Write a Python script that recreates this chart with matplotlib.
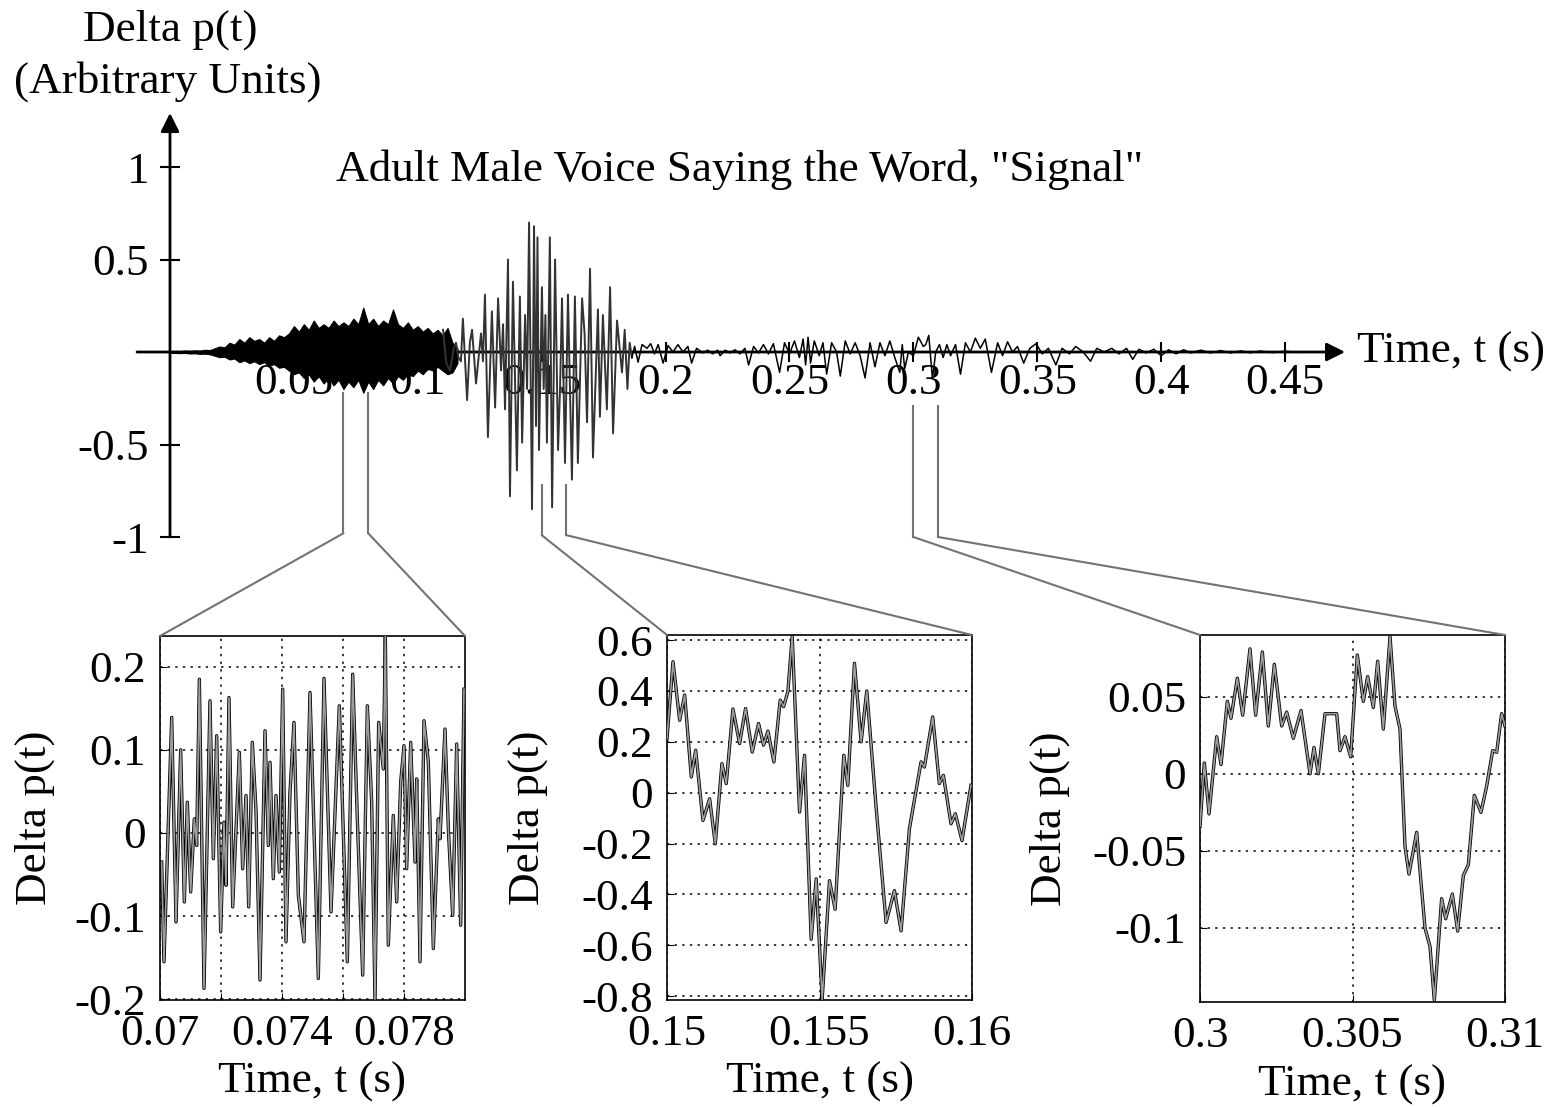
#!/usr/bin/env python3
"""Speech waveform of the word "Signal" with three zoomed insets."""

import matplotlib

matplotlib.use("Agg")
import matplotlib.pyplot as plt
import numpy as np
from matplotlib.patches import ConnectionPatch

plt.rcParams["font.family"] = ["Liberation Serif", "DejaVu Serif"]
plt.rcParams["axes.unicode_minus"] = False

# --- data (times in ms) ---
# unvoiced "s" part: drawn as a filled envelope, 2 ms steps
BLOB_T_MS = list(range(0, 118, 2))
BLOB_UPPER = [0.004, 0.006, 0.005, 0.008, 0.006, 0.009, 0.007, 0.012, 0.01, 0.02,
              0.03, 0.025, 0.05, 0.04, 0.07, 0.05, 0.08, 0.06, 0.07, 0.05,
              0.08, 0.06, 0.09, 0.08, 0.1, 0.14, 0.11, 0.15, 0.12, 0.17,
              0.13, 0.15, 0.13, 0.17, 0.14, 0.16, 0.14, 0.18, 0.15, 0.24,
              0.15, 0.18, 0.14, 0.17, 0.15, 0.23, 0.15, 0.13, 0.16, 0.12,
              0.14, 0.11, 0.13, 0.1, 0.12, 0.09, 0.13, 0.05, 0.02]
BLOB_LOWER = [-0.004, -0.005, -0.006, -0.005, -0.008, -0.007, -0.01, -0.009, -0.012, -0.02,
              -0.028, -0.025, -0.04, -0.035, -0.055, -0.045, -0.06, -0.05, -0.065, -0.055,
              -0.075, -0.065, -0.085, -0.08, -0.1, -0.12, -0.11, -0.14, -0.12, -0.16,
              -0.13, -0.17, -0.14, -0.18, -0.15, -0.2, -0.16, -0.19, -0.15, -0.22,
              -0.16, -0.2, -0.15, -0.18, -0.14, -0.17, -0.13, -0.15, -0.12, -0.13,
              -0.1, -0.12, -0.09, -0.1, -0.08, -0.1, -0.12, -0.11, -0.06]

# voiced "i" part
VOICED_T_MS = [110.2, 111.5, 113.0, 114.5, 115.4, 116.4, 117.4, 118.2, 119.9, 121.0,
               121.9, 123.5, 125.5, 126.3, 127.1, 128.3, 129.9, 131.2, 132.4, 133.6,
               134.4, 135.2, 136.4, 137.2, 138.4, 140.0, 141.2, 142.1, 143.3, 144.1,
               144.9, 146.1, 146.9, 147.7, 148.3, 148.9, 150.1, 150.8, 151.5, 152.1,
               153.3, 154.2, 155.4, 156.6, 157.4, 158.2, 159.4, 160.6, 162.2, 163.4,
               164.6, 166.3, 167.3, 168.3, 169.5, 170.7, 172.7, 173.5, 174.7, 176.3,
               177.6, 178.8, 180.4, 182.4, 183.5, 184.6, 185.5, 186.4]
VOICED_V = [0.12, -0.06, -0.10, 0.02, 0.05, -0.03, -0.05, 0.18, -0.26, 0.05,
            0.12, -0.17, 0.10, -0.05, 0.31, -0.46, 0.22, -0.30, 0.29, -0.10,
            0.15, -0.31, 0.50, -0.78, 0.38, -0.64, 0.30, -0.49, 0.20, -0.20,
            0.70, -0.85, 0.68, -0.40, 0.62, -0.53, 0.35, -0.20, 0.20, -0.49,
            0.62, -0.84, 0.50, -0.53, -0.20, 0.29, -0.60, 0.31, -0.69, 0.30,
            -0.60, 0.29, 0.10, -0.38, 0.45, -0.57, 0.23, -0.35, 0.20, -0.31,
            0.35, -0.44, 0.17, -0.11, 0.12, -0.20, 0.05, -0.03]

# "gnal" tail
TAIL_T_MS = [186.4, 187.5, 188.9, 190.5, 192.5, 194.0, 195.5, 197.0, 199.0, 201.0,
             203.0, 205.0, 207.0, 209.0, 210.5, 212.5, 215.0, 217.0, 219.0, 221.0,
             222.0, 224.0, 226.0, 228.0, 230.0, 232.0, 233.5, 235.5, 237.5, 239.5,
             241.5, 243.5, 246.0, 248.0, 250.0, 252.0, 254.0, 255.5, 256.5, 257.5,
             258.5, 260.0, 262.0, 263.5, 265.0, 267.0, 269.0, 270.5, 272.5, 274.5,
             276.5, 278.5, 280.5, 282.5, 284.5, 286.5, 288.5, 290.5, 292.5, 294.5,
             295.5, 296.5, 298.0, 300.0, 302.0, 304.0, 305.0, 306.2, 307.7, 309.0,
             310.5, 312.0, 313.5, 315.0, 317.0, 319.0, 321.0, 323.0, 325.0, 327.0,
             329.0, 331.5, 334.0, 336.0, 338.0, 340.0, 342.0, 344.5, 347.0, 349.5,
             352.0, 354.5, 357.5, 360.0, 363.0, 365.5, 368.5, 371.5, 374.0, 377.0,
             380.0, 383.0, 386.0, 388.5, 391.0, 394.0, 397.0, 400.0, 403.0, 406.0,
             409.0, 412.0, 416.0, 420.0, 424.0, 428.0, 432.0, 436.0, 440.0, 445.0,
             450.0, 455.0, 460.0]
TAIL_V = [-0.03, 0.03, -0.055, 0.04, 0.02, 0.045, -0.01, 0.04, -0.06, 0.035,
          0.0, 0.04, 0.0, 0.03, -0.06, 0.02, -0.005, 0.01, -0.01, 0.01,
          -0.02, 0.01, -0.005, 0.012, -0.01, 0.02, -0.07, 0.03, -0.005, 0.04,
          -0.01, 0.045, -0.11, 0.05, -0.01, 0.06, -0.03, 0.07, -0.07, 0.08,
          -0.06, 0.06, -0.02, 0.05, -0.12, 0.05, 0.0, -0.13, 0.06, -0.01,
          0.05, -0.02, -0.14, 0.05, -0.08, 0.05, -0.02, 0.06, -0.03, -0.11,
          0.04, -0.09, 0.0, -0.02, 0.08, 0.03, 0.04, 0.09, -0.145, 0.0,
          0.04, -0.03, 0.04, -0.02, 0.04, -0.12, 0.05, 0.0, 0.075, 0.02,
          0.07, -0.11, 0.05, -0.02, 0.055, 0.0, 0.03, -0.06, 0.02, 0.045,
          -0.01, 0.02, -0.07, 0.02, -0.01, 0.03, 0.0, -0.05, 0.02, 0.0,
          0.02, -0.01, 0.02, -0.04, 0.015, -0.005, 0.015, -0.02, 0.012, -0.01,
          0.012, -0.005, 0.01, -0.005, 0.008, -0.005, 0.006, -0.004, 0.005, -0.003,
          0.004, -0.002, 0.0]

# inset 1: 0.07 .. 0.08 s
INSET1_T_MS = [70.055, 70.131, 70.383, 70.525, 70.678, 70.798, 70.896, 71.005, 71.126, 71.202,
               71.29, 71.443, 71.639, 71.749, 71.858, 71.989, 72.098, 72.164, 72.262, 72.383,
               72.601, 72.71, 72.82, 72.907, 73.027, 73.148, 73.279, 73.443, 73.552, 73.607,
               73.716, 73.803, 73.913, 74.022, 74.131, 74.262, 74.393, 74.536, 74.721, 74.918,
               75.191, 75.377, 75.607, 75.88, 76.142, 76.317, 76.47, 76.645, 76.798, 76.94,
               77.049, 77.169, 77.322, 77.388, 77.486, 77.65, 77.76, 77.891, 78.0, 78.087,
               78.219, 78.361, 78.415, 78.525, 78.656, 78.798, 78.962, 79.126, 79.18, 79.344,
               79.454, 79.596, 79.727, 79.858, 79.967]
INSET1_V = [-0.035, -0.155, 0.139, -0.107, 0.1, -0.083, 0.037, -0.071, 0.017, -0.015,
            0.185, -0.187, 0.159, -0.031, 0.117, -0.119, 0.013, -0.063, 0.163, -0.089,
            0.097, -0.043, 0.045, -0.089, 0.109, 0.027, -0.177, 0.123, -0.015, 0.085,
            -0.055, 0.045, -0.047, 0.173, -0.131, 0.049, 0.133, -0.075, -0.131, 0.169,
            -0.175, 0.186, -0.095, 0.153, -0.155, 0.191, 0.017, -0.171, 0.153, 0.037,
            -0.2, 0.133, 0.077, 0.237, -0.135, 0.021, -0.083, 0.061, 0.105, -0.043,
            0.109, -0.035, 0.065, -0.155, 0.135, 0.085, -0.139, 0.017, -0.007, 0.125,
            0.005, -0.099, 0.107, -0.111, 0.173]

# inset 2: 0.15 .. 0.16 s
INSET2_T_MS = [150.0, 150.197, 150.415, 150.579, 150.797, 150.939, 151.179, 151.397, 151.583, 151.801,
               151.943, 152.162, 152.38, 152.576, 152.795, 153.002, 153.166, 153.308, 153.504, 153.712,
               153.821, 153.963, 154.105, 154.345, 154.509, 154.727, 154.891, 155.087, 155.328, 155.513,
               155.797, 155.928, 156.146, 156.365, 156.55, 156.856, 157.183, 157.456, 157.675, 157.948,
               158.33, 158.439, 158.712, 158.93, 159.061, 159.312, 159.454, 159.672, 159.967]
INSET2_V = [0.213, 0.515, 0.285, 0.384, 0.062, 0.167, -0.109, -0.024, -0.201, 0.114,
            0.036, 0.329, 0.193, 0.331, 0.16, 0.272, 0.187, 0.242, 0.121, 0.364,
            0.338, 0.397, 0.614, -0.076, 0.147, -0.576, -0.339, -0.813, -0.346, -0.458,
            0.147, 0.029, 0.509, 0.2, 0.4, -0.057, -0.51, -0.385, -0.543, -0.142,
            0.121, 0.101, 0.298, 0.036, 0.068, -0.122, -0.083, -0.188, 0.029]

# inset 3: 0.30 .. 0.31 s
INSET3_T_MS = [300.0, 300.142, 300.295, 300.546, 300.689, 300.896, 301.016, 301.224, 301.399, 301.639,
               301.825, 302.044, 302.24, 302.437, 302.678, 302.842, 303.06, 303.311, 303.607, 303.738,
               303.88, 304.098, 304.481, 304.59, 304.754, 304.94, 305.158, 305.355, 305.497, 305.683,
               305.825, 306.011, 306.23, 306.393, 306.557, 306.721, 306.852, 307.104, 307.377, 307.541,
               307.683, 307.923, 308.055, 308.273, 308.448, 308.634, 308.798, 308.995, 309.213, 309.399,
               309.596, 309.727, 309.891, 310.0]
INSET3_V = [-0.034, 0.007, -0.026, 0.024, 0.006, 0.047, 0.036, 0.062, 0.038, 0.081,
            0.038, 0.079, 0.031, 0.071, 0.031, 0.04, 0.023, 0.041, 0.0, 0.017,
            0.0, 0.039, 0.039, 0.015, 0.024, 0.011, 0.077, 0.047, 0.063, 0.043,
            0.073, 0.029, 0.089, 0.044, 0.029, -0.047, -0.065, -0.038, -0.1, -0.112,
            -0.147, -0.081, -0.094, -0.078, -0.102, -0.066, -0.059, -0.014, -0.025, -0.008,
            0.015, 0.014, 0.039, 0.031]

X_TICKS = [0.05, 0.1, 0.15, 0.2, 0.25, 0.3, 0.35, 0.4, 0.45]
X_TICK_LABELS = ["0.05", "0.1", "0.15", "0.2", "0.25", "0.3", "0.35", "0.4", "0.45"]
Y_TICKS = [-1, -0.5, 0.5, 1]
Y_TICK_LABELS = ["-1", "-0.5", "0.5", "1"]

ZOOM_WINDOWS_MS = [(70, 80), (150, 160), (300, 310)]
CONNECTOR_TOP = [-0.22, -0.72, -0.29]
CONNECTOR_BEND = [-0.98, -0.99, -1.0]
# ---------------------------

W, H = 1552, 1107
FS = 32.5
LINK_COLOR = "0.45"


def add_px_axes(fig, left, top, right, bottom):
    return fig.add_axes([left / W, 1 - bottom / H, (right - left) / W, (bottom - top) / H])


def ms(values):
    return np.asarray(values, dtype=float) / 1000.0


def draw_main(fig):
    ax = add_px_axes(fig, 130, 100, 1350, 560)
    ax.set_xlim(-0.01614, 0.47619)
    ax.set_ylim(-1.1243, 1.3622)
    for side in ("left", "bottom"):
        ax.spines[side].set_position(("data", 0))
    for spine in ax.spines.values():
        spine.set_visible(False)

    ax.set_xticks(X_TICKS)
    ax.set_xticklabels(X_TICK_LABELS)
    ax.set_yticks(Y_TICKS)
    ax.set_yticklabels(Y_TICK_LABELS)
    ax.tick_params(direction="inout", length=14, width=1.5, labelsize=FS)
    ax.tick_params(axis="x", pad=1)
    ax.tick_params(axis="y", pad=8)

    arrow = dict(arrowstyle="-|>", color="k", lw=2.0, shrinkA=0, shrinkB=0, mutation_scale=28)
    ax.annotate("", xy=(0, 1.292), xytext=(0, -1.0), arrowprops=arrow)
    ax.annotate("", xy=(0.4742, 0), xytext=(-0.0133, 0), arrowprops=arrow)

    ax.fill_between(ms(BLOB_T_MS), BLOB_LOWER, BLOB_UPPER, color="k", lw=0.8, zorder=3)
    ax.plot(ms(VOICED_T_MS), VOICED_V, color="0.2", lw=1.4, zorder=3)
    ax.plot(ms(TAIL_T_MS), TAIL_V, color="k", lw=1.1, zorder=3)
    return ax


def draw_inset(fig, box, t_ms, v, xlim, ylim, xticks, xlabels, yticks, ylabels, ylabel_x):
    ax = add_px_axes(fig, *box)
    ax.plot(ms(t_ms), v, color="k", lw=2.4, zorder=3)
    ax.plot(ms(t_ms), v, color="0.62", lw=1.2, zorder=4)
    ax.set_xlim(*xlim)
    ax.set_ylim(*ylim)
    ax.set_xticks(xticks)
    ax.set_xticklabels(xlabels)
    ax.set_yticks(yticks)
    ax.set_yticklabels(ylabels)
    ax.grid(True, color="k", linestyle=(0, (1.5, 3.5)), lw=1.1)
    ax.tick_params(direction="in", length=5, labelsize=FS, pad=10)
    for spine in ax.spines.values():
        spine.set_linewidth(1.2)
    ax.set_xlabel("Time, t (s)", fontsize=FS)
    ax.xaxis.set_label_coords(0.5, -0.17)
    ax.set_ylabel("Delta p(t)", fontsize=FS)
    ax.yaxis.set_label_coords(ylabel_x, 0.5)
    return ax


def main():
    fig = plt.figure(figsize=(W / 100, H / 100), dpi=100)
    ax = draw_main(fig)

    fig.text(170 / W, 1 - 30 / H, "Delta p(t)", fontsize=FS, ha="center", va="center")
    fig.text(168 / W, 1 - 82 / H, "(Arbitrary Units)", fontsize=FS, ha="center", va="center")
    fig.text(740 / W, 1 - 170 / H, 'Adult Male Voice Saying the Word, "Signal"',
             fontsize=FS, ha="center", va="center")
    fig.text(1357 / W, 1 - 352 / H, "Time, t (s)", fontsize=FS, ha="left", va="center")

    insets = [
        draw_inset(fig, (160, 636, 465, 1000), INSET1_T_MS, INSET1_V,
                   (0.07, 0.08), (-0.201, 0.237),
                   [0.07, 0.072, 0.074, 0.076, 0.078], ["0.07", "", "0.074", "", "0.078"],
                   [-0.2, -0.1, 0, 0.1, 0.2], ["-0.2", "-0.1", "0", "0.1", "0.2"], -0.344),
        draw_inset(fig, (667, 635, 972, 1000), INSET2_T_MS, INSET2_V,
                   (0.15, 0.16), (-0.815, 0.62),
                   [0.15, 0.155, 0.16], ["0.15", "0.155", "0.16"],
                   [-0.8, -0.6, -0.4, -0.2, 0, 0.2, 0.4, 0.6],
                   ["-0.8", "-0.6", "-0.4", "-0.2", "0", "0.2", "0.4", "0.6"], -0.39),
        draw_inset(fig, (1200, 635, 1505, 1002), INSET3_T_MS, INSET3_V,
                   (0.30, 0.31), (-0.148, 0.09),
                   [0.30, 0.305, 0.31], ["0.3", "0.305", "0.31"],
                   [-0.1, -0.05, 0, 0.05], ["-0.1", "-0.05", "0", "0.05"], -0.426),
    ]

    for inset, (lo, hi), top, bend in zip(insets, ZOOM_WINDOWS_MS, CONNECTOR_TOP, CONNECTOR_BEND):
        for t_edge, corner_x in ((lo / 1000.0, 0.0), (hi / 1000.0, 1.0)):
            ax.plot([t_edge, t_edge], [top, bend], color=LINK_COLOR, lw=1.5, clip_on=False)
            con = ConnectionPatch(xyA=(t_edge, bend), coordsA=ax.transData,
                                  xyB=(corner_x, 1.0), coordsB=inset.transAxes,
                                  color=LINK_COLOR, lw=1.5)
            fig.add_artist(con)

    fig.savefig("out.png", dpi=100)
    plt.close(fig)


if __name__ == "__main__":
    main()
